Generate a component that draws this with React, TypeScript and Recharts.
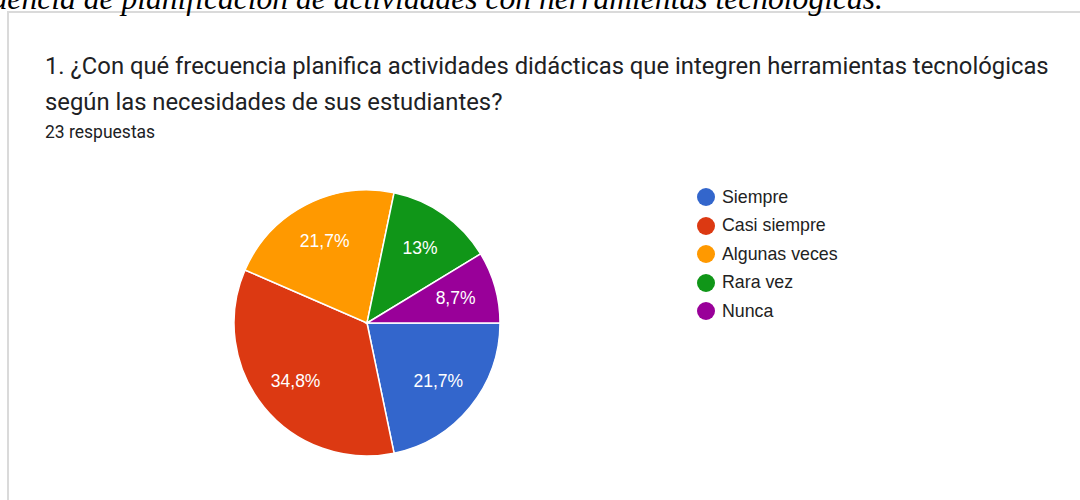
import { PieChart, Pie, Cell, Legend } from 'recharts';

const categories = ['Siempre', 'Casi siempre', 'Algunas veces', 'Rara vez', 'Nunca'];
const responses = [5, 8, 5, 3, 2];
const COLORS = ['#3366cc', '#dc3912', '#ff9900', '#109618', '#990099'];

const heading = 'Frecuencia de planificación de actividades con herramientas tecnológicas.';
const questionLines = [
  '1. ¿Con qué frecuencia planifica actividades didácticas que integren herramientas tecnológicas',
  'según las necesidades de sus estudiantes?',
];
const totalLabel = '23 respuestas';

const chartData = categories.map((name, i) => ({ name, value: responses[i] }));

const RADIAN = Math.PI / 180;

function formatPercent(p: number) {
  const s = (p * 100).toFixed(1).replace(/\.0$/, '');
  return s.replace('.', ',') + '%';
}

function renderLabel(props: any) {
  const { cx, cy, midAngle, percent } = props;
  const r = 92;
  const x = cx + r * Math.cos(-midAngle * RADIAN);
  const y = cy + r * Math.sin(-midAngle * RADIAN);
  return (
    <text
      x={x}
      y={y}
      fill="#ffffff"
      textAnchor="middle"
      dominantBaseline="central"
      style={{ fontFamily: 'Arial, "Liberation Sans", sans-serif', fontSize: 17.5 }}
    >
      {formatPercent(percent || 0)}
    </text>
  );
}

function renderLegend(props: any) {
  // keep the data order, not the legend's default sorting
  const items = [...(props.payload || [])].sort(
    (a: any, b: any) => categories.indexOf(a.value) - categories.indexOf(b.value)
  );
  return (
    <ul style={{ listStyle: 'none', margin: 0, padding: 0 }}>
      {items.map((entry: any, i: number) => (
        <li key={`leg-${i}`} style={{ display: 'flex', alignItems: 'center', height: 28.5 }}>
          <svg width={18} height={18} style={{ marginRight: 7 }}>
            <circle cx={9} cy={9} r={9} fill={entry.color} />
          </svg>
          <span style={{ color: '#222222', fontSize: 17.8, fontFamily: 'Arial, "Liberation Sans", sans-serif' }}>
            {entry.value}
          </span>
        </li>
      ))}
    </ul>
  );
}

export default function App() {
  return (
    <div style={{ position: 'absolute', left: 0, top: 0, width: 1080, height: 500, overflow: 'hidden', background: '#ffffff' }}>
      <div
        style={{
          position: 'absolute',
          left: 7,
          top: 11,
          width: 1100,
          height: 520,
          border: '2px solid #dadada',
          boxSizing: 'border-box',
        }}
      />
      <div
        style={{
          position: 'absolute',
          right: 197,
          top: -18,
          whiteSpace: 'nowrap',
          fontFamily: '"Liberation Serif", "Times New Roman", serif',
          fontStyle: 'italic',
          fontSize: 31.6,
          lineHeight: '34px',
          color: '#000000',
        }}
      >
        {heading}
      </div>
      <div
        style={{
          position: 'absolute',
          left: 45,
          top: 48,
          fontFamily: 'Roboto, Arial, sans-serif',
          fontSize: 23.8,
          lineHeight: '36px',
          color: '#202124',
          whiteSpace: 'nowrap',
        }}
      >
        {questionLines.map((l, i) => (
          <div key={i}>{l}</div>
        ))}
      </div>
      <div
        style={{
          position: 'absolute',
          left: 45,
          top: 120,
          fontFamily: 'Roboto, Arial, sans-serif',
          fontSize: 17.5,
          lineHeight: '24px',
          color: '#202124',
        }}
      >
        {totalLabel}
      </div>
      <div style={{ position: 'absolute', left: 0, top: 0 }}>
        <PieChart width={1080} height={500} margin={{ top: 0, right: 0, bottom: 0, left: 0 }}>
          <Pie
            data={chartData}
            dataKey="value"
            nameKey="name"
            cx={367}
            cy={323}
            outerRadius={133}
            startAngle={0}
            endAngle={-360}
            stroke="#ffffff"
            strokeWidth={1.5}
            labelLine={false}
            label={renderLabel}
            isAnimationActive={false}
          >
            {chartData.map((entry, index) => (
              <Cell key={`cell-${index}`} fill={COLORS[index % COLORS.length]} />
            ))}
          </Pie>
          <Legend
            layout="vertical"
            content={renderLegend}
            wrapperStyle={{ position: 'absolute', left: 697, top: 183, width: 250 }}
          />
        </PieChart>
      </div>
    </div>
  );
}
